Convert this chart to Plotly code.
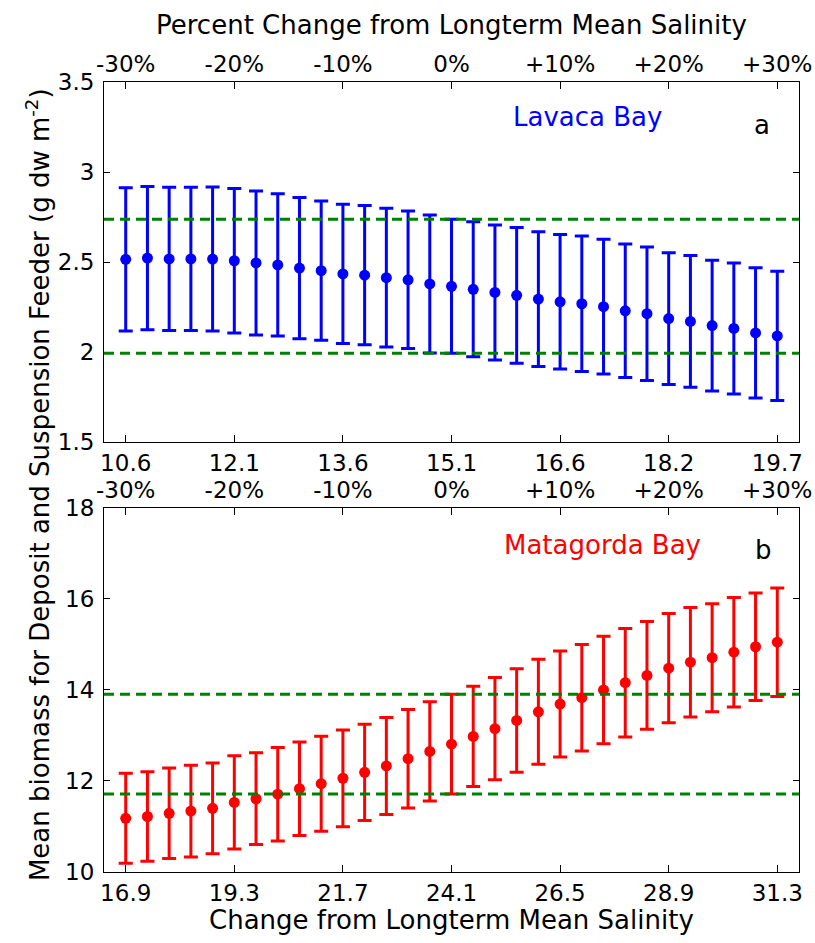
import plotly.graph_objects as go

# Salinity scenarios: percent change from the long-term mean
pct_change = [-30, -28, -26, -24, -22, -20, -18, -16, -14, -12, -10, -8, -6, -4, -2,
              0, 2, 4, 6, 8, 10, 12, 14, 16, 18, 20, 22, 24, 26, 28, 30]

# Lavaca Bay: mean biomass and standard deviation (g dw m-2)
lavaca_mean = [2.515, 2.522, 2.517, 2.517, 2.516, 2.507, 2.495, 2.484, 2.466, 2.452,
               2.434, 2.427, 2.413, 2.401, 2.378, 2.365, 2.348, 2.331, 2.315, 2.294,
               2.279, 2.268, 2.252, 2.229, 2.213, 2.186, 2.170, 2.147, 2.131, 2.106, 2.089]
lavaca_sd = [0.398, 0.398, 0.398, 0.398, 0.400, 0.401, 0.400, 0.395, 0.392, 0.387,
             0.387, 0.387, 0.385, 0.382, 0.383, 0.372, 0.375, 0.375, 0.377, 0.374,
             0.374, 0.376, 0.374, 0.371, 0.371, 0.366, 0.366, 0.363, 0.364, 0.362, 0.359]

# Matagorda Bay: mean biomass and standard deviation (g dw m-2)
matagorda_mean = [11.18, 11.22, 11.29, 11.34, 11.40, 11.53, 11.61, 11.71, 11.83, 11.94,
                  12.06, 12.19, 12.33, 12.49, 12.65, 12.81, 12.98, 13.15, 13.33, 13.52,
                  13.69, 13.83, 14.00, 14.16, 14.32, 14.48, 14.61, 14.71, 14.83, 14.95, 15.05]
matagorda_sd = [0.989, 0.982, 0.993, 1.008, 0.997, 1.026, 1.008, 1.026, 1.026, 1.044,
                1.063, 1.059, 1.066, 1.081, 1.092, 1.098, 1.103, 1.125, 1.136, 1.154,
                1.165, 1.172, 1.183, 1.191, 1.183, 1.202, 1.202, 1.187, 1.202, 1.180, 1.191]

# Axis ticks
pct_ticks = [-30, -20, -10, 0, 10, 20, 30]
pct_labels = ["-30%", "-20%", "-10%", "0%", "+10%", "+20%", "+30%"]
lavaca_sal_labels = ["10.6", "12.1", "13.6", "15.1", "16.6", "18.2", "19.7"]
matagorda_sal_labels = ["16.9", "19.3", "21.7", "24.1", "26.5", "28.9", "31.3"]
lavaca_yticks = [1.5, 2, 2.5, 3, 3.5]
lavaca_ylabels = ["1.5", "2", "2.5", "3", "3.5"]
matagorda_yticks = [10, 12, 14, 16, 18]

BLUE = "#0000ff"
RED = "#ff0000"
GREEN = "#008000"
FONT = "DejaVu Sans"
TICK_SIZE = 23
TITLE_SIZE = 26

base_idx = pct_change.index(0)

fig = go.Figure()


def add_panel(mean, sd, color, xa, ya, xtop):
    fig.add_trace(go.Scatter(
        x=pct_change, y=mean, mode="markers",
        marker=dict(color=color, size=11, line=dict(width=0)),
        error_y=dict(type="data", array=sd, visible=True, color=color,
                     thickness=3, width=7),
        xaxis=xa, yaxis=ya, showlegend=False, hoverinfo="skip"))
    # invisible companion so the percent axis on top is drawn
    fig.add_trace(go.Scatter(
        x=pct_change, y=mean, mode="markers", marker=dict(opacity=0),
        xaxis=xtop, yaxis=ya, showlegend=False, hoverinfo="skip"))
    # reference band: baseline mean +/- one standard deviation
    for v in (mean[base_idx] + sd[base_idx], mean[base_idx] - sd[base_idx]):
        fig.add_shape(type="line", xref=xa + " domain", yref=ya,
                      x0=0, x1=1, y0=v, y1=v,
                      line=dict(color=GREEN, width=3, dash="10px,6px"),
                      layer="above")


add_panel(lavaca_mean, lavaca_sd, BLUE, "x", "y", "x3")
add_panel(matagorda_mean, matagorda_sd, RED, "x2", "y2", "x4")

tickfont = dict(family=FONT, size=TICK_SIZE, color="black")
common_x = dict(range=[-32, 32], showline=True, linecolor="black", linewidth=1,
                ticks="inside", ticklen=7, tickwidth=1, tickcolor="black",
                showgrid=False, zeroline=False, tickfont=tickfont, automargin=False)
common_y = dict(showline=True, linecolor="black", linewidth=1, mirror="ticks",
                ticks="inside", ticklen=6, tickwidth=1, tickcolor="black",
                showgrid=False, zeroline=False, tickfont=tickfont,
                ticklabelstandoff=4, automargin=False)

top_dom = [0.5443, 1.0]
bot_dom = [0.0, 0.4608]

fig.update_layout(
    width=815, height=943,
    margin=dict(l=104, r=16, t=82, b=71, autoexpand=False),
    paper_bgcolor="white", plot_bgcolor="white",
    font=dict(family=FONT, color="black"),
    xaxis=dict(common_x, domain=[0, 1], anchor="y", side="bottom",
               tickvals=pct_ticks, ticktext=lavaca_sal_labels, mirror="ticks"),
    xaxis3=dict(common_x, overlaying="x", anchor="y", side="top",
                tickvals=pct_ticks, ticktext=pct_labels),
    yaxis=dict(common_y, domain=top_dom, anchor="x", range=[1.5, 3.5],
               tickvals=lavaca_yticks, ticktext=lavaca_ylabels),
    xaxis2=dict(common_x, domain=[0, 1], anchor="y2", side="bottom",
                tickvals=pct_ticks, ticktext=matagorda_sal_labels, mirror="ticks"),
    xaxis4=dict(common_x, overlaying="x2", anchor="y2", side="top",
                tickvals=pct_ticks, ticktext=pct_labels),
    yaxis2=dict(common_y, domain=bot_dom, anchor="x2", range=[10, 18],
                tickvals=matagorda_yticks),
)

ann_font = dict(family=FONT, size=TITLE_SIZE, color="black")
fig.add_annotation(text="Percent Change from Longterm Mean Salinity",
                   xref="paper", yref="paper", x=0.5, y=1.072,
                   showarrow=False, font=ann_font, xanchor="center", yanchor="middle")
fig.add_annotation(text="Change from Longterm Mean Salinity",
                   xref="paper", yref="paper", x=0.5, y=-0.061,
                   showarrow=False, font=ann_font, xanchor="center", yanchor="middle")
fig.add_annotation(text="Mean biomass for Deposit and Suspension Feeder (g dw m<sup>-2</sup>)",
                   xref="paper", yref="paper", x=-0.095, y=0.491, textangle=-90,
                   showarrow=False, font=ann_font, xanchor="center", yanchor="middle")
fig.add_annotation(text="Lavaca Bay", xref="x", yref="y domain", x=12.5, y=0.949,
                   showarrow=False, font=dict(family=FONT, size=TITLE_SIZE, color=BLUE))
fig.add_annotation(text="a", xref="x", yref="y domain", x=28.6, y=0.928,
                   showarrow=False, font=ann_font)
fig.add_annotation(text="Matagorda Bay", xref="x2", yref="y2 domain", x=13.9, y=0.945,
                   showarrow=False, font=dict(family=FONT, size=TITLE_SIZE, color=RED))
fig.add_annotation(text="b", xref="x2", yref="y2 domain", x=28.7, y=0.93,
                   showarrow=False, font=ann_font)

fig.write_html("out.html")
